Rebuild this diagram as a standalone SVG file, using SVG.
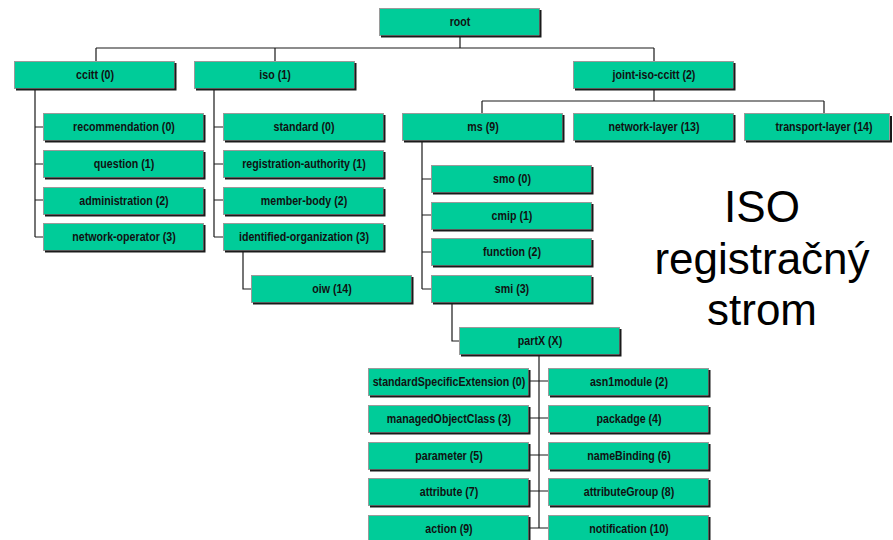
<svg xmlns="http://www.w3.org/2000/svg" width="893" height="540" viewBox="0 0 893 540">
  <style>
    .box { fill: #00CC99; stroke: #9a9a9a; stroke-width: 1; }
    .sh { fill: none; stroke: #1a1a1a; stroke-width: 2; }
    .lbl { font-family: "Liberation Sans", Arial, sans-serif; font-weight: bold; font-size: 13px; fill: #111; text-anchor: middle; }
    .wire { fill: none; stroke: #1a1a1a; stroke-width: 1.2; }
    .title { font-family: "Liberation Sans", Arial, sans-serif; font-size: 44px; fill: #000; text-anchor: middle; }
  </style>
  <defs>
    <!-- raised node box: fill with a dark drop edge on bottom and right -->
    <g id="nodebox">
      <rect class="box" x="0.5" y="0.5" width="160" height="27"/>
      <path class="sh" d="M2 28.5 H161.5 V2"/>
    </g>
  </defs>

  <rect width="893" height="540" fill="#ffffff"/>

  <g id="connectors">
    <path class="wire" d="M460 36 V48 M96 48 H654 M96 48 V61 M275 48 V61 M654 48 V61"/>
    <path class="wire" d="M35 88 V237 M35 127 H43 M35 164 H43 M35 200 H43 M35 237 H43"/>
    <path class="wire" d="M214 88 V237 M214 127 H223 M214 164 H223 M214 200 H223 M214 237 H223"/>
    <path class="wire" d="M243 251 V289 H251"/>
    <path class="wire" d="M654 88 V101 M482 101 H824 M482 101 V113 M824 101 V113"/>
    <path class="wire" d="M422 141 V289 M422 179 H431 M422 215 H431 M422 252 H431 M422 289 H431"/>
    <path class="wire" d="M452 303 V341 H459"/>
    <path class="wire" d="M539 355 V528 M530 381 H548 M530 418 H548 M530 455 H548 M530 491 H548 M530 528 H548"/>
  </g>

  <!-- labels are set in a condensed bold face: Liberation Sans Bold squeezed horizontally -->
  <g id="root"><use href="#nodebox" x="379" y="8"/><text class="lbl" transform="translate(460 26) scale(0.82 1)">root</text></g>

  <g id="ccitt"><use href="#nodebox" x="14" y="61"/><text class="lbl" transform="translate(95 79) scale(0.82 1)">ccitt (0)</text></g>
  <g id="iso"><use href="#nodebox" x="194" y="61"/><text class="lbl" transform="translate(275 79) scale(0.82 1)">iso (1)</text></g>
  <g id="joint-iso-ccitt"><use href="#nodebox" x="573" y="61"/><text class="lbl" transform="translate(654 79) scale(0.82 1)">joint-iso-ccitt (2)</text></g>

  <g id="recommendation"><use href="#nodebox" x="43" y="113"/><text class="lbl" transform="translate(124 131) scale(0.82 1)">recommendation (0)</text></g>
  <g id="question"><use href="#nodebox" x="43" y="150"/><text class="lbl" transform="translate(124 168) scale(0.82 1)">question (1)</text></g>
  <g id="administration"><use href="#nodebox" x="43" y="187"/><text class="lbl" transform="translate(124 205) scale(0.82 1)">administration (2)</text></g>
  <g id="network-operator"><use href="#nodebox" x="43" y="223"/><text class="lbl" transform="translate(124 241) scale(0.82 1)">network-operator (3)</text></g>

  <g id="standard"><use href="#nodebox" x="223" y="113"/><text class="lbl" transform="translate(304 131) scale(0.82 1)">standard (0)</text></g>
  <g id="registration-authority"><use href="#nodebox" x="223" y="150"/><text class="lbl" transform="translate(304 168) scale(0.82 1)">registration-authority (1)</text></g>
  <g id="member-body"><use href="#nodebox" x="223" y="187"/><text class="lbl" transform="translate(304 205) scale(0.82 1)">member-body (2)</text></g>
  <g id="identified-organization"><use href="#nodebox" x="223" y="223"/><text class="lbl" transform="translate(304 241) scale(0.82 1)">identified-organization (3)</text></g>
  <g id="oiw"><use href="#nodebox" x="251" y="275"/><text class="lbl" transform="translate(332 293) scale(0.82 1)">oiw (14)</text></g>

  <g id="ms"><use href="#nodebox" x="402" y="113"/><text class="lbl" transform="translate(483 131) scale(0.82 1)">ms (9)</text></g>
  <g id="network-layer"><use href="#nodebox" x="573" y="113"/><text class="lbl" transform="translate(654 131) scale(0.82 1)">network-layer (13)</text></g>
  <g id="transport-layer">
    <rect class="box" x="744.5" y="113.5" width="145" height="27"/>
    <path class="sh" d="M746 141.5 H891 V116"/>
    <text class="lbl" transform="translate(824 131) scale(0.82 1)">transport-layer (14)</text>
  </g>

  <g id="smo"><use href="#nodebox" x="431" y="165"/><text class="lbl" transform="translate(512 183) scale(0.82 1)">smo (0)</text></g>
  <g id="cmip"><use href="#nodebox" x="431" y="202"/><text class="lbl" transform="translate(512 220) scale(0.82 1)">cmip (1)</text></g>
  <g id="function"><use href="#nodebox" x="431" y="238"/><text class="lbl" transform="translate(512 256) scale(0.82 1)">function (2)</text></g>
  <g id="smi"><use href="#nodebox" x="431" y="275"/><text class="lbl" transform="translate(512 293) scale(0.82 1)">smi (3)</text></g>

  <g id="partX"><use href="#nodebox" x="459" y="327"/><text class="lbl" transform="translate(540 345) scale(0.82 1)">partX (X)</text></g>

  <g id="standardSpecificExtension"><use href="#nodebox" x="368" y="368"/><text class="lbl" transform="translate(449 386) scale(0.82 1)">standardSpecificExtension (0)</text></g>
  <g id="asn1module"><use href="#nodebox" x="548" y="368"/><text class="lbl" transform="translate(629 386) scale(0.82 1)">asn1module (2)</text></g>
  <g id="managedObjectClass"><use href="#nodebox" x="368" y="405"/><text class="lbl" transform="translate(449 423) scale(0.82 1)">managedObjectClass (3)</text></g>
  <g id="packadge"><use href="#nodebox" x="548" y="405"/><text class="lbl" transform="translate(629 423) scale(0.82 1)">packadge (4)</text></g>
  <g id="parameter"><use href="#nodebox" x="368" y="442"/><text class="lbl" transform="translate(449 460) scale(0.82 1)">parameter (5)</text></g>
  <g id="nameBinding"><use href="#nodebox" x="548" y="442"/><text class="lbl" transform="translate(629 460) scale(0.82 1)">nameBinding (6)</text></g>
  <g id="attribute"><use href="#nodebox" x="368" y="478"/><text class="lbl" transform="translate(449 496) scale(0.82 1)">attribute (7)</text></g>
  <g id="attributeGroup"><use href="#nodebox" x="548" y="478"/><text class="lbl" transform="translate(629 496) scale(0.82 1)">attributeGroup (8)</text></g>
  <g id="action"><use href="#nodebox" x="368" y="515"/><text class="lbl" transform="translate(449 533) scale(0.82 1)">action (9)</text></g>
  <g id="notification"><use href="#nodebox" x="548" y="515"/><text class="lbl" transform="translate(629 533) scale(0.82 1)">notification (10)</text></g>

  <g id="title">
    <text class="title" x="762" y="222">ISO</text>
    <text class="title" x="762" y="274">registračný</text>
    <text class="title" x="762" y="325">strom</text>
  </g>
</svg>
